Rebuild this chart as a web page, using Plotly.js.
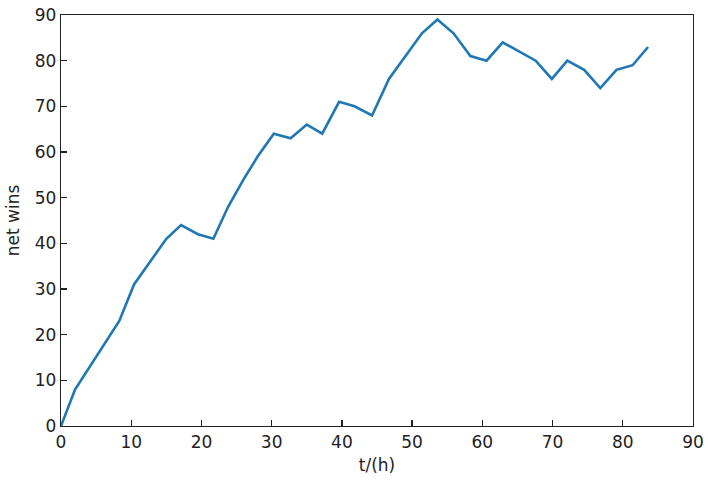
<!DOCTYPE html>
<html>
<head>
<meta charset="utf-8">
<script src="https://cdn.plot.ly/plotly-3.0.1.min.js"></script>
<style>html,body{margin:0;padding:0;background:#fff;}#chart{width:708px;height:482px;}</style>
</head>
<body>
<div id="chart"></div>
<script>
const hours = [0, 2, 8.3, 10.4, 15, 17.1, 19.5, 21.7, 23.8, 26, 28, 30.3, 32.7, 35, 37.2, 39.6, 41.8, 44.3, 46.7, 49, 51.4, 53.6, 55.9, 58.3, 60.6, 62.9, 65.3, 67.6, 69.9, 72.1, 74.5, 76.8, 79.1, 81.4, 83.6];
const netWins = [0, 8, 23, 31, 41, 44, 42, 41, 48, 54, 59, 64, 63, 66, 64, 71, 70, 68, 76, 81, 86, 89, 86, 81, 80, 84, 82, 80, 76, 80, 78, 74, 78, 79, 83];
const xTicks = [0, 10, 20, 30, 40, 50, 60, 70, 80, 90];
const yTicks = [0, 10, 20, 30, 40, 50, 60, 70, 80, 90];

const font = {family: 'DejaVu Sans, sans-serif', size: 17, color: '#222'};
const axisCommon = {
  showgrid: false, zeroline: false, showline: true, mirror: true,
  linecolor: '#222', linewidth: 1.3,
  ticks: 'inside', ticklen: 6, tickwidth: 1.3, tickcolor: '#222',
  tickfont: font, tickmode: 'array'
};
Plotly.newPlot('chart', [{
  x: hours, y: netWins, type: 'scatter', mode: 'lines',
  line: {color: '#1f77b4', width: 2.6}
}], {
  width: 708, height: 482,
  margin: {l: 61, r: 15, t: 15, b: 56},
  paper_bgcolor: '#fff', plot_bgcolor: '#fff',
  showlegend: false,
  font: font,
  xaxis: Object.assign({}, axisCommon, {range: [0, 90], tickvals: xTicks, ticktext: xTicks.map(String),
    title: {text: 't/(h)', font: font, standoff: 8}}),
  yaxis: Object.assign({}, axisCommon, {range: [0, 90], tickvals: yTicks, ticktext: yTicks.map(String),
    title: {text: 'net wins', font: font, standoff: 10}})
}, {displayModeBar: false, staticPlot: true});
</script>
</body>
</html>
